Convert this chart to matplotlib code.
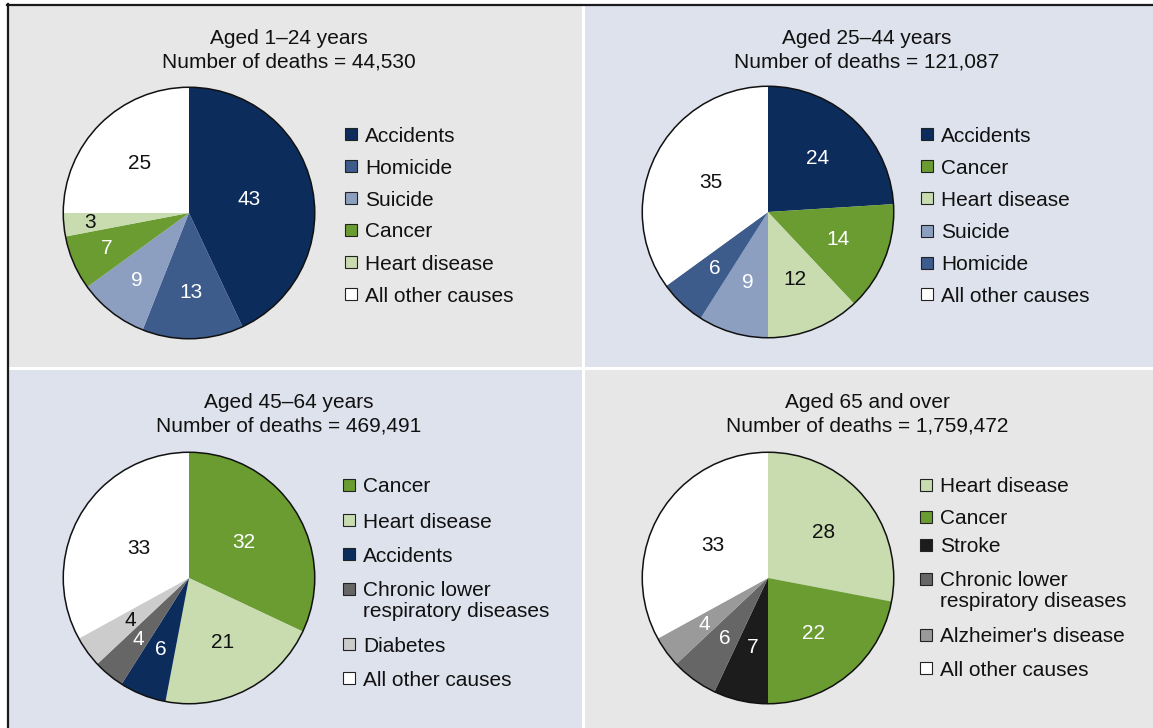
import matplotlib.pyplot as plt
from matplotlib.patches import Rectangle, Circle
from matplotlib.lines import Line2D
import numpy as np

plt.rcParams['font.family'] = ['Liberation Sans', 'DejaVu Sans']

# ---- data ----
age_groups = ['Aged 1\u201324 years', 'Aged 25\u201344 years',
              'Aged 45\u201364 years', 'Aged 65 and over']
death_counts = ['44,530', '121,087', '469,491', '1,759,472']

causes_1_24 = ['Accidents', 'Homicide', 'Suicide', 'Cancer', 'Heart disease', 'All other causes']
values_1_24 = [43, 13, 9, 7, 3, 25]

causes_25_44 = ['Accidents', 'Cancer', 'Heart disease', 'Suicide', 'Homicide', 'All other causes']
values_25_44 = [24, 14, 12, 9, 6, 35]

causes_45_64 = ['Cancer', 'Heart disease', 'Accidents',
                'Chronic lower\nrespiratory diseases', 'Diabetes', 'All other causes']
values_45_64 = [32, 21, 6, 4, 4, 33]

causes_65 = ['Heart disease', 'Cancer', 'Stroke',
             'Chronic lower\nrespiratory diseases', "Alzheimer's disease", 'All other causes']
values_65 = [28, 22, 7, 6, 4, 33]

# ---- styles ----
colors = {
    'Accidents': '#0c2c5c',
    'Homicide': '#3d5b8b',
    'Suicide': '#8c9fc1',
    'Cancer': '#6a9c31',
    'Heart disease': '#c8dcb0',
    'Stroke': '#1c1c1c',
    'Chronic lower\nrespiratory diseases': '#666666',
    "Alzheimer's disease": '#9a9a9a',
    'Diabetes': '#cccccc',
    'All other causes': '#ffffff',
}
dark_text = {'Heart disease', 'Diabetes', 'All other causes'}

W, H = 1153, 728
fig = plt.figure(figsize=(W / 100, H / 100), dpi=100)
fig.patch.set_facecolor('white')


def fx(px):
    return px / W


def fy(py):
    return 1 - py / H


# panel backgrounds (x0, y0, x1, y1 in pixels from top-left)
gray, blue = '#e7e7e7', '#dee2ed'
panels = [(9, 6, 582, 367, gray), (585, 6, 1153, 367, blue),
          (9, 370, 582, 728, blue), (585, 370, 1153, 728, gray)]
for x0, y0, x1, y1, c in panels:
    fig.add_artist(Rectangle((fx(x0), fy(y1)), fx(x1 - x0), (y1 - y0) / H,
                             transform=fig.transFigure, facecolor=c, edgecolor='none',
                             zorder=-10))
fig.add_artist(Line2D([fx(7), 1], [fy(4.5), fy(4.5)], transform=fig.transFigure,
                      color='#1a1a1a', lw=1.6, zorder=-5))
fig.add_artist(Line2D([fx(7.5), fx(7.5)], [0, fy(4)], transform=fig.transFigure,
                      color='#1a1a1a', lw=1.6, zorder=-5))

# layout per panel: pie centre, title centre, legend x, legend row y's, label radii
R = 127
layout = [
    dict(c=(189, 213), tx=289, ty=37, lx=345, ly=[134, 166, 198, 230, 262, 294],
         lr=[0.49, 0.63, 0.68, 0.71, 0.79, 0.56]),
    dict(c=(768, 212), tx=867, ty=37, lx=921, ly=[134, 166, 198, 231, 263, 294],
         lr=[0.58, 0.60, 0.58, 0.58, 0.62, 0.51]),
    dict(c=(189, 578), tx=289, ty=401, lx=343, ly=[485, 520, 554, 589, 644, 678],
         lr=[0.52, 0.58, 0.61, 0.63, 0.58, 0.46]),
    dict(c=(768, 578), tx=867, ty=401, lx=920, ly=[485, 517, 545, 579, 635, 668],
         lr=[0.57, 0.57, 0.57, 0.59, 0.63, 0.51]),
]
data = [(causes_1_24, values_1_24), (causes_25_44, values_25_44),
        (causes_45_64, values_45_64), (causes_65, values_65)]

fs = 15
cap = 0.36 * fs * 100 / 72  # half cap height in px
line_h = 20.5
for (causes, values), lay, age, n in zip(data, layout, age_groups, death_counts):
    cx, cy = lay['c']
    ax = fig.add_axes([fx(cx - R), fy(cy + R), fx(2 * R), 2 * R / H])
    wedges, _ = ax.pie(values, colors=[colors[c] for c in causes], startangle=90,
                       counterclock=False, radius=1,
                       wedgeprops=dict(edgecolor='none', linewidth=0))
    ax.add_patch(Circle((0, 0), 1, facecolor='none', edgecolor='#111111', lw=1.1))
    ax.set_xlim(-1.01, 1.01)
    ax.set_ylim(-1.01, 1.01)
    ax.set_aspect('equal')
    ax.axis('off')
    for w, v, c, r in zip(wedges, values, causes, lay['lr']):
        ang = np.deg2rad((w.theta1 + w.theta2) / 2)
        ax.text(r * np.cos(ang), r * np.sin(ang), str(v), ha='center', va='center',
                fontsize=fs, color='#111111' if c in dark_text else 'white')

    fig.text(fx(lay['tx']), fy(lay['ty'] + cap), age, ha='center', va='baseline',
             fontsize=fs, color='#111111')
    fig.text(fx(lay['tx']), fy(lay['ty'] + 23 + cap), 'Number of deaths = ' + n,
             ha='center', va='baseline', fontsize=fs, color='#111111')

    # legend
    for c, y in zip(causes, lay['ly']):
        fig.add_artist(Rectangle((fx(lay['lx']), fy(y + 6)), fx(12), 12 / H,
                                 transform=fig.transFigure, facecolor=colors[c],
                                 edgecolor='#222222', lw=0.8))
        for i, part in enumerate(c.split('\n')):
            fig.text(fx(lay['lx'] + 20), fy(y + cap + i * line_h), part, ha='left',
                     va='baseline', fontsize=fs, color='#111111')

fig.savefig('out.png', dpi=100)
